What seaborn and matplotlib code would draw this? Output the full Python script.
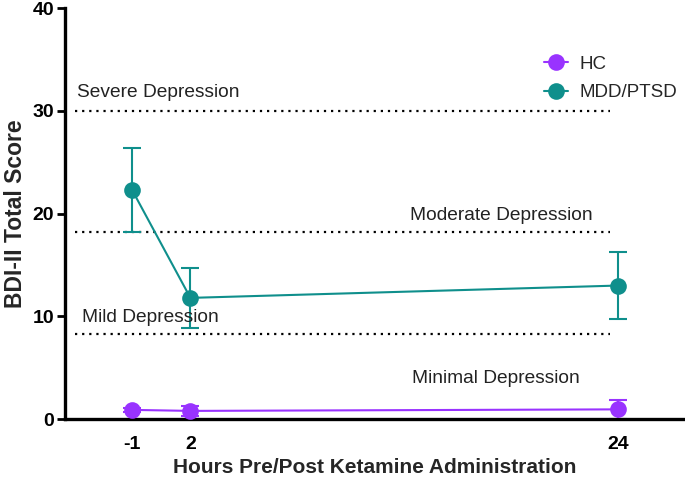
import pandas as pd
import matplotlib
matplotlib.use('Agg')
import matplotlib.pyplot as plt
import seaborn as sns

# Data
hours = [-1, 2, 24]
groups = ['HC', 'MDD/PTSD']
hc_mean = [0.9, 0.8, 0.95]
hc_sem = [0.2, 0.5, 0.9]
mdd_mean = [22.3, 11.8, 13.0]
mdd_sem = [4.1, 2.9, 3.3]

# severity cut-offs (dotted lines) and their labels
cutoffs = [30.0, 18.2, 8.3]
severity_labels = ['Severe Depression', 'Moderate Depression', 'Mild Depression', 'Minimal Depression']
label_x = [-3.83, 13.3, -3.57, 13.4]
label_y = [31.8, 19.85, 9.85, 4.0]

colors = {'HC': '#9933ff', 'MDD/PTSD': '#0f8f8c'}

df = pd.DataFrame({
    'Hours': hours * 2,
    'Score': hc_mean + mdd_mean,
    'Group': ['HC'] * 3 + ['MDD/PTSD'] * 3,
})

sns.set_style('ticks')
plt.rcParams['font.family'] = ['Liberation Sans', 'DejaVu Sans']

fig = plt.figure(figsize=(6.85, 4.79), dpi=100)
ax = fig.add_axes([0.095, 0.125, 0.905, 0.858])

#Cut-off lines
for c in cutoffs:
    ax.plot([-3.93, 23.6], [c, c], color='black', linestyle=(0, (1, 2.2)), linewidth=1.6, zorder=1)
for txt, tx, ty in zip(severity_labels, label_x, label_y):
    ax.text(tx, ty, txt, fontsize=13.8, color='#222222', ha='left', va='center')

#Error bars
for g, m, s in [('MDD/PTSD', mdd_mean, mdd_sem), ('HC', hc_mean, hc_sem)]:
    ax.errorbar(hours, m, yerr=s, fmt='none', ecolor=colors[g], elinewidth=1.5,
                capsize=6.5, capthick=1.5, zorder=2)

#Lines with markers
sns.lineplot(data=df, x='Hours', y='Score', hue='Group', hue_order=groups,
             palette=colors, marker='o', markersize=12, markeredgewidth=0,
             linewidth=1.5, ax=ax, zorder=3)

ax.set_xlim(-4.45, 27.45)
ax.set_ylim(0, 40)
ax.set_xticks(hours)
ax.set_xticklabels([str(h) for h in hours])
ax.set_yticks([0, 10, 20, 30, 40])
for lbl in ax.get_xticklabels() + ax.get_yticklabels():
    lbl.set_fontweight('bold')
    lbl.set_fontsize(14)
ax.tick_params(axis='y', length=6, width=2, pad=2, colors='black')
ax.tick_params(axis='x', length=0, pad=12, colors='black')

sns.despine(ax=ax)
for sp in ['left', 'bottom']:
    ax.spines[sp].set_linewidth(2.4)
    ax.spines[sp].set_color('black')

ax.set_xlabel('Hours Pre/Post Ketamine Administration', fontsize=15, fontweight='bold', labelpad=4)
ax.set_ylabel('BDI-II Total Score', fontsize=16.5, fontweight='bold', labelpad=4)

leg = ax.legend(loc='upper left', bbox_to_anchor=(0.745, 0.925), frameon=False,
                fontsize=13.5, handlelength=1.3, handletextpad=0.6, labelspacing=0.6)

fig.savefig('out.png', dpi=100)
